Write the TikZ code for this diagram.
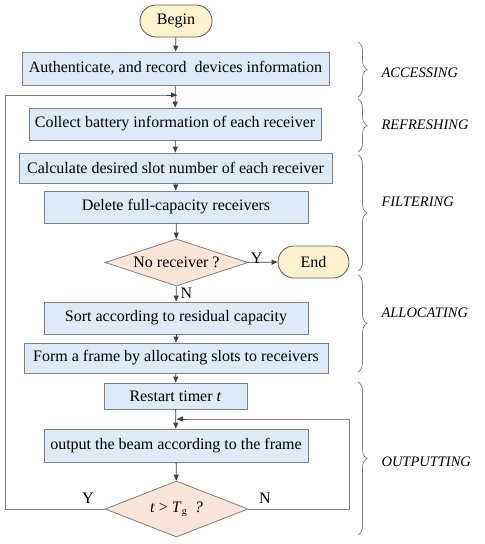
\documentclass[tikz,border=0pt]{standalone}
\usepackage{fontspec}
\setmainfont{Liberation Serif}
\usetikzlibrary{shapes.geometric,arrows.meta,decorations.pathreplacing}
\definecolor{boxfill}{HTML}{DEEAF6}
\definecolor{boxdraw}{HTML}{7F7F7F}
\definecolor{termfill}{HTML}{FFF2CC}
\definecolor{termdraw}{HTML}{595959}
\definecolor{diafill}{HTML}{FBE5D6}
\definecolor{linecol}{HTML}{404040}
\begin{document}
\begin{tikzpicture}[x=1pt,y=-1pt,
  font=\fontsize{16}{19}\selectfont,
  proc/.style={draw=boxdraw, fill=boxfill, line width=0.8pt, inner sep=0pt},
  term/.style={draw=termdraw, fill=termfill, line width=0.8pt, rounded corners=16pt, inner sep=0pt, minimum width=72pt, minimum height=32pt},
  dia/.style={diamond, aspect=3, draw=boxdraw, fill=diafill, line width=0.8pt, inner sep=0pt},
  arr/.style={draw=linecol, line width=0.8pt, -{Triangle[length=6pt,width=5pt]}},
  lin/.style={draw=boxdraw, line width=0.8pt},
  brc/.style={draw=boxdraw, line width=0.7pt, decorate, decoration={brace, amplitude=9pt}},
  phase/.style={font=\fontsize{14.5}{17}\selectfont\itshape, anchor=west},
  yn/.style={inner sep=0pt}]
\useasboundingbox (0,0) rectangle (485,544);

\node[term] (begin) at (176,21) {Begin};
\node[proc, minimum width=307pt, minimum height=33pt] (auth) at (175.5,68.5) {Authenticate, and record\ \ devices information};
\node[proc, minimum width=292pt, minimum height=32pt] (coll) at (175,124) {Collect battery information of each receiver};
\node[proc, minimum width=313pt, minimum height=30pt] (calc) at (175.5,168) {Calculate desired slot number of each receiver};
\node[proc, minimum width=264pt, minimum height=32pt] (del) at (176,207) {Delete full-capacity receivers};
\node[dia, minimum width=143pt, minimum height=47pt] (dec1) at (176.5,262.5) {\makebox[0pt]{No receiver ?}};
\node[term, minimum width=71pt] (end) at (313.5,262) {End};
\node[proc, minimum width=264pt, minimum height=32pt] (sort) at (176,318) {Sort according to residual capacity};
\node[proc, minimum width=304pt, minimum height=30pt] (form) at (176,358) {Form a frame by allocating slots to receivers};
\node[proc, minimum width=143pt, minimum height=26pt] (restart) at (175.5,396) {Restart timer \textit{t}};
\node[proc, minimum width=264pt, minimum height=33pt] (out) at (176,445.5) {output the beam according to the frame};
\node[dia, minimum width=143pt, minimum height=56pt] (dec2) at (176.5,509) {\makebox[0pt]{\textit{t} \textgreater{} \textit{T}\raisebox{-0.3ex}{\fontsize{10}{12}\selectfont g}\ \ \textit{?}}};

\coordinate (loopA) at (177,95);
\coordinate (loopB) at (177,419);
\coordinate (leftx) at (5,509);
\coordinate (rightx) at (349,509);

\draw[arr] (begin) -- (auth);
\draw[arr] (auth) -- (coll);
\draw[arr] (coll) -- (calc);
\draw[arr] (calc) -- (del);
\draw[arr] (del) -- (dec1);
\draw[arr] (dec1) -- node[yn, above, pos=0.3, yshift=-2pt] (ylab1) {Y} (end);
\draw[arr] (dec1) -- node[yn, right, xshift=4pt, pos=0.45] (nlab1) {N} (sort);
\draw[arr] (sort) -- (form);
\draw[arr] (form) -- (restart);
\draw[arr] (restart) -- (out);
\draw[arr] (out) -- (dec2);
\draw[lin] (dec2.west) -- (leftx) |- (loopA);
\draw[arr] ([xshift=-10pt]loopA) -- (loopA);
\draw[lin] (dec2.east) -- (rightx) |- (loopB);
\draw[arr] ([xshift=10pt]loopB) -- (loopB);
\node[yn] (ylab2) at (88,498) {Y};
\node[yn] (nlab2) at (265,498) {N};

\draw[brc] (358,42) -- (358,97);
\draw[brc] (358,99) -- (358,152);
\draw[brc] (358,155) -- (358,271);
\draw[brc] (358,275) -- (358,372);
\draw[brc] (358,382) -- (358,535);
\node[phase] (pa) at (378,73) {ACCESSING};
\node[phase] (pr) at (378,125) {REFRESHING};
\node[phase] (pf) at (378,202) {FILTERING};
\node[phase] (pl) at (378,313) {ALLOCATING};
\node[phase] (po) at (378,462) {OUTPUTTING};
\end{tikzpicture}
\end{document}
